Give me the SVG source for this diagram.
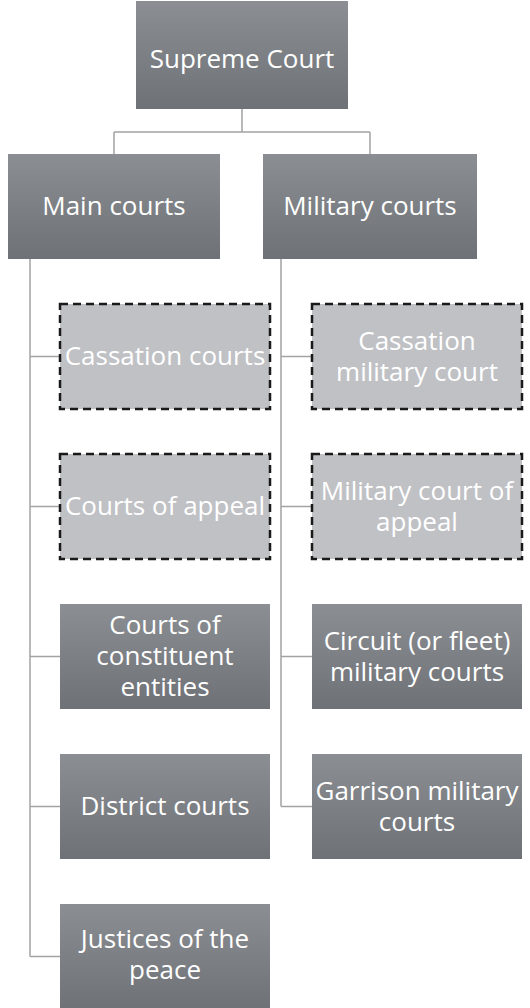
<svg xmlns="http://www.w3.org/2000/svg" width="530" height="1008" viewBox="0 0 530 1008">
<defs>
<linearGradient id="g" x1="0" y1="0" x2="0" y2="1">
<stop offset="0" stop-color="#8b8e92"/>
<stop offset="1" stop-color="#6e7176"/>
</linearGradient>
<style>
.dark{fill:url(#g);}
.light{fill:#c0c1c5;stroke:#1a1a1a;stroke-width:2.5;stroke-dasharray:8 5;}
text{font-family:"Open Sans","Liberation Sans",sans-serif;font-size:26px;fill:#ffffff;text-anchor:middle;}
.conn{fill:none;stroke:#a3a3a3;stroke-width:1.5;}
</style>
</defs>
<rect width="530" height="1008" fill="#ffffff"/>
<g id="connectors" class="conn">
<path d="M242 109 V132 M114 132 H370 M114 132 V154 M370 132 V154"/>
<path d="M30 259 V956.5 M30 356.5 H60 M30 506.5 H60 M30 656.5 H60 M30 806.5 H60 M30 956.5 H60"/>
<path d="M281 259 V806.5 M281 356.5 H312 M281 506.5 H312 M281 656.5 H312 M281 806.5 H312"/>
</g>
<g id="supreme"><rect class="dark" x="136" y="1" width="212" height="108"/><text x="242" y="68">Supreme Court</text></g>
<g id="main"><rect class="dark" x="8" y="154" width="212" height="105"/><text x="114" y="215">Main courts</text></g>
<g id="military"><rect class="dark" x="263" y="154" width="214" height="105"/><text x="370" y="215">Military courts</text></g>
<g id="cassation"><rect class="light" x="60" y="304" width="210" height="105"/><text x="165" y="365">Cassation courts</text></g>
<g id="appeal"><rect class="light" x="60" y="454" width="210" height="105"/><text x="165" y="515">Courts of appeal</text></g>
<g id="constituent"><rect class="dark" x="60" y="604" width="210" height="105"/><text x="165" y="634">Courts of</text><text x="165" y="665">constituent</text><text x="165" y="696">entities</text></g>
<g id="district"><rect class="dark" x="60" y="754" width="210" height="105"/><text x="165" y="815">District courts</text></g>
<g id="justices"><rect class="dark" x="60" y="904" width="210" height="105"/><text x="165" y="948">Justices of the</text><text x="165" y="979">peace</text></g>
<g id="cassmil"><rect class="light" x="312" y="304" width="210" height="105"/><text x="417" y="350">Cassation</text><text x="417" y="381">military court</text></g>
<g id="milappeal"><rect class="light" x="312" y="454" width="210" height="105"/><text x="417" y="500">Military court of</text><text x="417" y="531">appeal</text></g>
<g id="circuit"><rect class="dark" x="312" y="604" width="210" height="105"/><text x="417" y="650">Circuit (or fleet)</text><text x="417" y="681">military courts</text></g>
<g id="garrison"><rect class="dark" x="312" y="754" width="210" height="105"/><text x="417" y="800">Garrison military</text><text x="417" y="831">courts</text></g>
</svg>
